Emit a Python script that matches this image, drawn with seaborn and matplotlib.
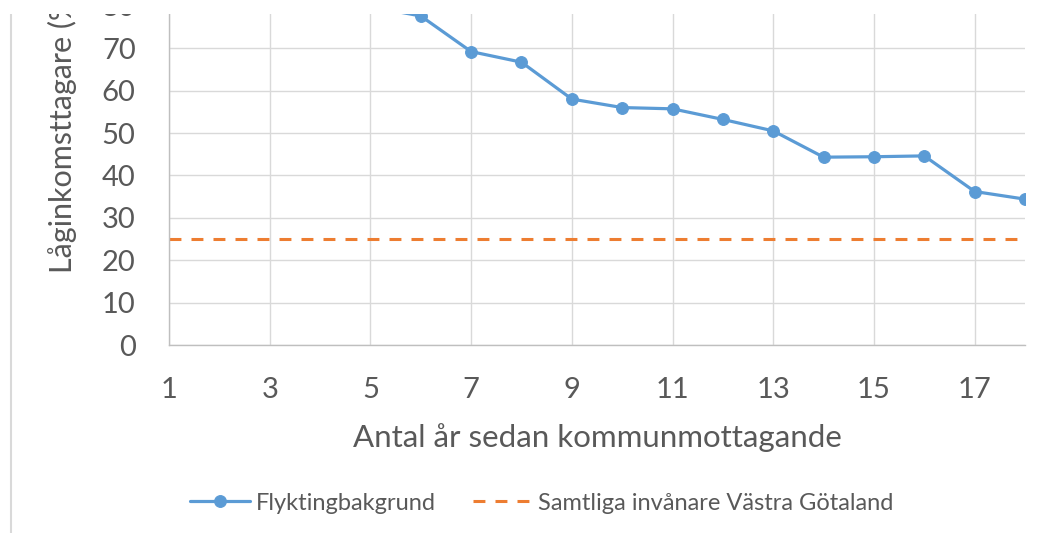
import pandas as pd
import matplotlib.pyplot as plt
import seaborn as sns
from matplotlib.patches import Rectangle
from matplotlib.lines import Line2D

# values (years 1-5 lie above the visible crop)
years = list(range(1, 19))
flykting = [95, 91, 87, 83, 79.8, 77.6, 69.2, 66.7, 58.0, 56.0, 55.7, 53.2, 50.5, 44.3, 44.4, 44.6, 36.2, 34.4]
samtliga = [25] * 18
xticks = [1, 3, 5, 7, 9, 11, 13, 15, 17]
yticks = list(range(0, 101, 10))

blue = '#5B9BD5'
orange = '#ED7D31'
grey_txt = '#595959'

sns.set_theme(style='white')
plt.rcParams['font.family'] = ['Lato', 'DejaVu Sans']

fig = plt.figure(figsize=(10.52, 5.33), dpi=100)
W, H = 1052, 533
# axes placed in pixel terms; top part is cropped away like the reference
ax = fig.add_axes([169 / W, (H - 345) / H, (1025 - 169) / W, 424 / H])

df = pd.DataFrame({'år': years, 'Flyktingbakgrund': flykting,
                   'Samtliga invånare Västra Götaland': samtliga})

sns.lineplot(data=df, x='år', y='Flyktingbakgrund', ax=ax, color=blue,
             linewidth=2.3, marker='o', markersize=8.5, markeredgecolor=blue,
             label='Flyktingbakgrund')
sns.lineplot(data=df, x='år', y='Samtliga invånare Västra Götaland', ax=ax,
             color=orange, linewidth=2.2, dashes=False,
             label='Samtliga invånare Västra Götaland')
ax.lines[-1].set_dashes((3.9, 3.3))

ax.set_xlim(1, 18)
ax.set_ylim(0, 100)
ax.set_xticks(xticks)
ax.set_yticks(yticks)
ax.tick_params(axis='both', length=0, labelsize=21, colors=grey_txt)
ax.tick_params(axis='y', pad=24)
ax.tick_params(axis='x', pad=23)
ax.grid(True, color='#d9d9d9', linewidth=1)
for s in ['top', 'right']:
    ax.spines[s].set_visible(False)
for s in ['left', 'bottom']:
    ax.spines[s].set_color('#bfbfbf')
    ax.spines[s].set_linewidth(1)

ax.set_xlabel('Antal år sedan kommunmottagande', fontsize=22.5, color=grey_txt)
ax.xaxis.set_label_coords(0.5, -0.185)
ax.set_ylabel('')
fig.text(62 / W, (H - 273) / H, 'Låginkomsttagare (%)', rotation=90,
         ha='center', va='bottom', fontsize=22, color=grey_txt)

ax.get_legend().remove()
handles, labels = ax.get_legend_handles_labels()
fig.legend(handles, labels, loc='center', ncol=2, frameon=False,
           bbox_to_anchor=(542 / W, (H - 503) / H), fontsize=17,
           labelcolor=grey_txt, handlelength=2.5, handletextpad=0.25,
           columnspacing=1.6)

# chart-area border on the left and the crop at the top
fig.add_artist(Line2D([11 / W, 11 / W], [0, (H - 14) / H], color='#d9d9d9',
                      linewidth=1.5, transform=fig.transFigure, zorder=50))
fig.add_artist(Rectangle((0, (H - 14) / H), 1, 14 / H, facecolor='white',
                         edgecolor='none', transform=fig.transFigure, zorder=100))

fig.savefig('out.png', dpi=100)
